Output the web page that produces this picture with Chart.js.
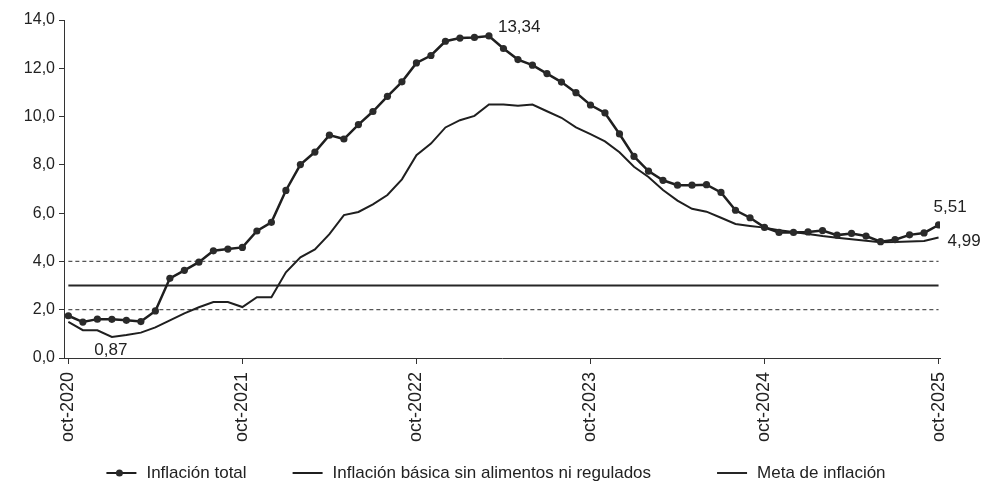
<!DOCTYPE html>
<html lang="es">
<head>
<meta charset="utf-8">
<title>Inflación total y básica</title>
<script src="https://cdn.jsdelivr.net/npm/chart.js@4/dist/chart.umd.min.js"></script>
<style>
  html, body { margin: 0; padding: 0; background: #fff; }
  #grafico { display: block; }
</style>
</head>
<body>
<canvas id="grafico" width="982" height="487"></canvas>
<script>
// meses desde oct-2020 hasta oct-2025 (61 observaciones mensuales)
var etiquetasEje = ['oct-2020', 'oct-2021', 'oct-2022', 'oct-2023', 'oct-2024', 'oct-2025'];
var posicionesEje = [0, 12, 24, 36, 48, 60];

var inflacionTotal = [
  1.75, 1.49, 1.61, 1.60, 1.56, 1.51, 1.95, 3.30, 3.63, 3.97, 4.44, 4.51,
  4.58, 5.26, 5.62, 6.94, 8.01, 8.53, 9.23, 9.07, 9.67, 10.21, 10.84, 11.44,
  12.22, 12.53, 13.12, 13.25, 13.28, 13.34, 12.82, 12.36, 12.13, 11.78, 11.43, 10.99,
  10.48, 10.15, 9.28, 8.35, 7.74, 7.36, 7.16, 7.16, 7.18, 6.86, 6.12, 5.81,
  5.41, 5.20, 5.20, 5.22, 5.28, 5.09, 5.16, 5.05, 4.82, 4.90, 5.10, 5.18, 5.51
];

var inflacionBasica = [
  1.50, 1.15, 1.15, 0.87, 0.95, 1.05, 1.27, 1.56, 1.85, 2.10, 2.32, 2.32,
  2.11, 2.52, 2.52, 3.55, 4.17, 4.50, 5.13, 5.92, 6.05, 6.36, 6.75, 7.40,
  8.40, 8.88, 9.55, 9.85, 10.03, 10.50, 10.50, 10.45, 10.50, 10.22, 9.95, 9.55,
  9.27, 8.97, 8.52, 7.92, 7.50, 6.96, 6.52, 6.18, 6.06, 5.81, 5.55, 5.47,
  5.40, 5.29, 5.22, 5.14, 5.05, 4.98, 4.92, 4.86, 4.79, 4.80, 4.83, 4.85, 4.99
];

var metaInflacion = [3.0, 3.0];
var rangoSuperior = [4.0, 4.0];
var rangoInferior = [2.0, 2.0];
var extremosMeta = [0, 60];

var rotulos = [
  { serie: 0, indice: 29, texto: '13,34', dx: 9, dy: -4, align: 'left' },
  { serie: 0, indice: 60, texto: '5,51', dx: -5, dy: -13, align: 'left' },
  { serie: 1, indice: 60, texto: '4,99', dx: 9, dy: 8, align: 'left' },
  { serie: 1, indice: 3, texto: '0,87', dx: -1, dy: 18, align: 'center' }
];

var FUENTE = "'Liberation Sans', Arial, sans-serif";
var NEGRO = '#1f1f1f';

function aPuntos(valores) {
  return valores.map(function (v, i) { return { x: i, y: v }; });
}

function aExtremos(valores) {
  return valores.map(function (v, i) { return { x: extremosMeta[i], y: v }; });
}

function coma(v, dec) {
  return Number(v).toFixed(dec).replace('.', ',');
}

var rotulosPlugin = {
  id: 'rotulos',
  afterDatasetsDraw: function (chart) {
    var ctx = chart.ctx;
    var xs = chart.scales.x, ys = chart.scales.y;
    ctx.save();
    ctx.fillStyle = '#222';
    ctx.font = '17px ' + FUENTE;
    ctx.textBaseline = 'alphabetic';
    rotulos.forEach(function (r) {
      var serie = r.serie === 0 ? inflacionTotal : inflacionBasica;
      var px = xs.getPixelForValue(r.indice);
      var py = ys.getPixelForValue(serie[r.indice]);
      ctx.textAlign = r.align;
      ctx.fillText(r.texto, px + r.dx, py + r.dy);
    });
    ctx.restore();
  }
};

var leyendaPlugin = {
  id: 'leyendaInferior',
  afterDraw: function (chart) {
    var ctx = chart.ctx;
    var items = chart.data.datasets.filter(function (d) { return d.enLeyenda; });
    var largo = 30, sep = 10, huecos = [46, 66];
    var y = 473;
    ctx.save();
    ctx.font = '17px ' + FUENTE;
    var anchos = items.map(function (d) { return ctx.measureText(d.label).width; });
    var total = 0;
    anchos.forEach(function (w, i) { total += largo + sep + w + (i < anchos.length - 1 ? huecos[i] : 0); });
    var x = 496 - total / 2;
    items.forEach(function (d, i) {
      ctx.strokeStyle = d.borderColor;
      ctx.lineWidth = 2;
      ctx.beginPath();
      ctx.moveTo(x, y);
      ctx.lineTo(x + largo, y);
      ctx.stroke();
      if (d.pointRadius > 0) {
        ctx.fillStyle = d.pointBackgroundColor;
        ctx.beginPath();
        ctx.arc(x + largo / 2 - 2, y, 3.5, 0, Math.PI * 2);
        ctx.fill();
      }
      ctx.fillStyle = '#222';
      ctx.textAlign = 'left';
      ctx.textBaseline = 'middle';
      ctx.fillText(d.label, x + largo + sep, y);
      x += largo + sep + anchos[i] + (huecos[i] || 0);
    });
    ctx.restore();
  }
};

new Chart(document.getElementById('grafico'), {
  type: 'line',
  data: {
    datasets: [
      {
        label: 'Inflación total',
        enLeyenda: true,
        data: aPuntos(inflacionTotal),
        borderColor: NEGRO,
        borderWidth: 2.5,
        pointRadius: 3.6,
        pointBackgroundColor: '#2a2a2a',
        pointBorderColor: '#2a2a2a',
        pointBorderWidth: 0,
        tension: 0,
        order: 0
      },
      {
        label: 'Inflación básica sin alimentos ni regulados',
        enLeyenda: true,
        data: aPuntos(inflacionBasica),
        borderColor: NEGRO,
        borderWidth: 2,
        pointRadius: 0,
        tension: 0,
        order: 1
      },
      {
        label: 'Meta de inflación',
        enLeyenda: true,
        data: aExtremos(metaInflacion),
        borderColor: '#262626',
        borderWidth: 2,
        pointRadius: 0,
        order: 2
      },
      {
        label: 'Rango superior',
        data: aExtremos(rangoSuperior),
        borderColor: '#555',
        borderWidth: 1.2,
        borderDash: [4, 3],
        pointRadius: 0,
        order: 3
      },
      {
        label: 'Rango inferior',
        data: aExtremos(rangoInferior),
        borderColor: '#555',
        borderWidth: 1.2,
        borderDash: [4, 3],
        pointRadius: 0,
        order: 3
      }
    ]
  },
  options: {
    responsive: false,
    devicePixelRatio: 1,
    animation: false,
    layout: { padding: { top: 20, right: 42, bottom: 0, left: 0 } },
    plugins: {
      legend: { display: false },
      tooltip: { enabled: false }
    },
    scales: {
      x: {
        type: 'linear',
        min: -0.3,
        max: 60.1,
        afterBuildTicks: function (scale) {
          scale.ticks = posicionesEje.map(function (v) { return { value: v }; });
        },
        afterFit: function (scale) { scale.height = 129; },
        grid: { display: true, drawOnChartArea: false, drawTicks: true, tickLength: 6, color: '#333' },
        border: { display: true, color: '#333', width: 1 },
        ticks: {
          autoSkip: false,
          minRotation: 90,
          maxRotation: 90,
          padding: 8,
          color: '#222',
          font: { family: FUENTE, size: 18 },
          callback: function (v) {
            var i = posicionesEje.indexOf(v);
            return i >= 0 ? etiquetasEje[i] : '';
          }
        }
      },
      y: {
        min: 0,
        max: 14,
        afterFit: function (scale) { scale.width = 64; },
        grid: { display: true, drawOnChartArea: false, drawTicks: true, tickLength: 5, color: '#333' },
        border: { display: true, color: '#333', width: 1 },
        ticks: {
          stepSize: 2,
          padding: 4,
          color: '#222',
          font: { family: FUENTE, size: 16 },
          callback: function (v) { return coma(v, 1); }
        }
      }
    }
  },
  plugins: [rotulosPlugin, leyendaPlugin]
});
</script>
</body>
</html>
